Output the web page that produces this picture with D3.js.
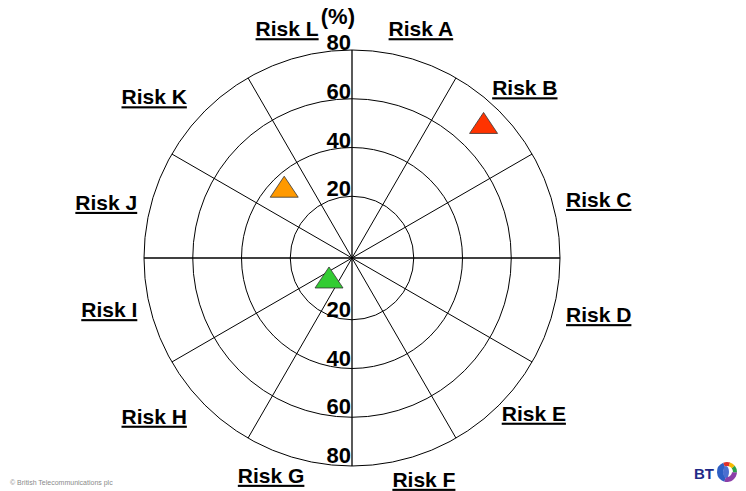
<!DOCTYPE html>
<html>
<head>
<meta charset="utf-8">
<script src="https://cdn.jsdelivr.net/npm/d3@7"></script>
<style>
    body { margin: 0; background: #fff; }
    svg { display: block; }
</style>
</head>
<body>
<script>
// data
var risks = ["Risk A", "Risk B", "Risk C", "Risk D", "Risk E", "Risk F",
             "Risk G", "Risk H", "Risk I", "Risk J", "Risk K", "Risk L"];
var ringValues = [20, 40, 60, 80];
var ringLabels = ["20", "40", "60", "80"];
var markerRisks = ["Risk B", "Risk K", "Risk H"];
var markerValues = [71, 34, 8];

// styles
var markerFill = ["#ff3300", "#ff9900", "#33cc33"];
var font = "'Liberation Sans', Arial, Helvetica, sans-serif";

// hand placed label nudges (dx, dy) like on the original slide
var labelNudge = [[-2, -4], [-7, -7], [4, -3], [4, 2], [2, -7], [1, -3],
                  [-10, -7], [-18, -4], [0, -3], [-3, 0], [-18, 2], [6, -4]];

// set up
var outerWidth = 746,
    outerHeight = 491,
    cx = 352,
    cy = 258;

var svg = d3.select("body")
    .append("svg")
    .attr("width", outerWidth)
    .attr("height", outerHeight);

var g = svg.append("g")
    .attr("transform", "translate(" + cx + "," + cy + ")");

// radial scale (the centre is not at zero in the original)
var r = d3.scaleLinear()
    .domain([0, 80])
    .range([13, 208]);

// angle scale, one band per risk
var angle = d3.scaleBand()
    .domain(risks)
    .range([0, 2 * Math.PI]);

function mid(d) { return angle(d) + angle.bandwidth() / 2; }

// rings
g.selectAll(".ring")
    .data(ringValues)
    .enter()
    .append("circle")
    .attr("class", "ring")
    .attr("r", function(d) { return r(d); })
    .attr("fill", "none")
    .attr("stroke", "#000")
    .attr("stroke-width", 1);

// spokes at band edges
g.selectAll(".spoke")
    .data(risks)
    .enter()
    .append("line")
    .attr("class", "spoke")
    .attr("x1", 0)
    .attr("y1", 0)
    .attr("x2", function(d) { return r(80) * Math.sin(angle(d)); })
    .attr("y2", function(d) { return -r(80) * Math.cos(angle(d)); })
    .attr("stroke", "#000")
    .attr("stroke-width", function(d, i) { return i % 3 == 0 ? 1.3 : 1; });

// value labels, top and bottom of the vertical axis
g.selectAll(".vtop")
    .data(ringValues)
    .enter()
    .append("text")
    .attr("x", -1)
    .attr("y", function(d) { return -r(d); })
    .attr("text-anchor", "end")
    .attr("font-family", font)
    .attr("font-size", "22px")
    .attr("font-weight", "700")
    .text(function(d, i) { return ringLabels[i]; });

g.selectAll(".vbot")
    .data(ringValues)
    .enter()
    .append("text")
    .attr("x", -1)
    .attr("y", function(d) { return r(d) - 3; })
    .attr("text-anchor", "end")
    .attr("font-family", font)
    .attr("font-size", "22px")
    .attr("font-weight", "700")
    .text(function(d, i) { return ringLabels[i]; });

// unit label
g.append("text")
    .attr("x", 3)
    .attr("y", -r(80) - 26)
    .attr("text-anchor", "end")
    .attr("font-family", font)
    .attr("font-size", "22px")
    .attr("font-weight", "700")
    .text("(%)");

// risk labels around the outside
g.selectAll(".risk")
    .data(risks)
    .enter()
    .append("text")
    .attr("class", "risk")
    .attr("x", function(d, i) {
        var s = Math.sin(mid(d));
        return 243 * s + 8 * Math.sign(s) + labelNudge[i][0];
    })
    .attr("y", function(d, i) {
        var c = Math.cos(mid(d));
        return -240 * c + 7 * Math.sign(c) + 7 + labelNudge[i][1];
    })
    .attr("text-anchor", "middle")
    .attr("font-family", font)
    .attr("font-size", "21px")
    .attr("font-weight", "700")
    .style("text-decoration", "underline")
    .text(function(d) { return d; });

// triangle markers
var tri = "M0,-14L14,7L-14,7Z";

g.selectAll(".marker")
    .data(markerRisks)
    .enter()
    .append("path")
    .attr("class", "marker")
    .attr("d", tri)
    .attr("transform", function(d, i) {
        var a = mid(d), rr = r(markerValues[i]);
        return "translate(" + (rr * Math.sin(a)) + "," + (-rr * Math.cos(a)) + ")";
    })
    .attr("fill", function(d, i) { return markerFill[i]; })
    .attr("stroke", "#333")
    .attr("stroke-width", 0.8);

// footer
svg.append("text")
    .attr("x", 10)
    .attr("y", 485)
    .attr("font-family", font)
    .attr("font-size", "7px")
    .attr("fill", "#8a8a8a")
    .text("\u00A9 British Telecommunications plc");

// BT logo
svg.append("text")
    .attr("x", 694)
    .attr("y", 479)
    .attr("font-family", font)
    .attr("font-size", "15px")
    .attr("font-weight", "900")
    .attr("fill", "#1f2a87")
    .text("BT");

var logo = svg.append("g")
    .attr("transform", "translate(727,472)");

logo.append("circle")
    .attr("r", 10)
    .attr("fill", "#fff");

var arc = d3.arc();
// blue crescent on the left, purple below, colours on top right
logo.append("path")
    .attr("d", arc({ innerRadius: 4, outerRadius: 10, startAngle: 3.4, endAngle: 5.9 }))
    .attr("fill", "#2d5fc4");
logo.append("path")
    .attr("d", arc({ innerRadius: 5, outerRadius: 10, startAngle: 1.6, endAngle: 3.4 }))
    .attr("fill", "#8b3fa8");
logo.append("path")
    .attr("d", arc({ innerRadius: 6, outerRadius: 10, startAngle: 5.9, endAngle: 6.6 }))
    .attr("fill", "#e0302a");
logo.append("path")
    .attr("d", arc({ innerRadius: 6, outerRadius: 10, startAngle: 0.3, endAngle: 0.9 }))
    .attr("fill", "#f6b800");
logo.append("path")
    .attr("d", arc({ innerRadius: 6, outerRadius: 10, startAngle: 0.9, endAngle: 1.6 }))
    .attr("fill", "#2aa24a");
logo.append("ellipse")
    .attr("cx", -1)
    .attr("rx", 3)
    .attr("ry", 6)
    .attr("fill", "#4b6fd0");
</script>
</body>
</html>
